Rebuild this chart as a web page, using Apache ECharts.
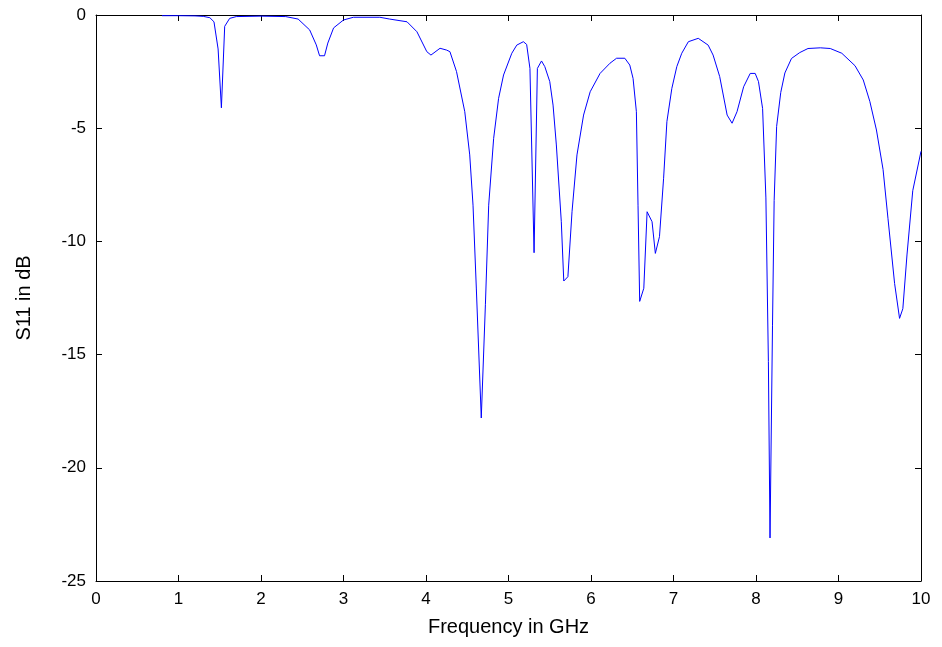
<!DOCTYPE html>
<html>
<head>
<meta charset="utf-8">
<script src="https://cdn.jsdelivr.net/npm/echarts@6/dist/echarts.min.js"></script>
<style>
html,body{margin:0;padding:0;background:#fff;}
#chart{width:942px;height:647px;}
</style>
</head>
<body>
<div id="chart"></div>
<script>
const freqGHz = [0.8,1.0,1.2,1.3,1.38,1.43,1.48,1.52,1.56,1.62,1.7,2.0,2.3,2.45,2.59,2.67,2.71,2.77,2.81,2.88,3.0,3.12,3.44,3.56,3.77,3.89,4.01,4.06,4.17,4.25,4.29,4.37,4.47,4.53,4.57,4.61,4.67,4.72,4.76,4.82,4.88,4.94,5.04,5.10,5.18,5.22,5.26,5.31,5.35,5.40,5.44,5.50,5.54,5.58,5.64,5.67,5.72,5.77,5.83,5.91,5.99,6.11,6.23,6.31,6.41,6.47,6.51,6.55,6.57,6.59,6.64,6.68,6.74,6.78,6.83,6.88,6.92,6.98,7.04,7.10,7.18,7.30,7.42,7.48,7.56,7.65,7.71,7.77,7.85,7.93,7.99,8.03,8.08,8.12,8.15,8.17,8.20,8.22,8.25,8.30,8.35,8.43,8.53,8.63,8.78,8.90,9.04,9.20,9.30,9.38,9.46,9.54,9.60,9.68,9.74,9.78,9.83,9.90,10.0];
const s11dB = [-0.03,-0.03,-0.04,-0.06,-0.12,-0.3,-1.5,-4.1,-0.5,-0.15,-0.07,-0.05,-0.07,-0.18,-0.66,-1.32,-1.8,-1.8,-1.24,-0.57,-0.22,-0.1,-0.1,-0.18,-0.3,-0.74,-1.62,-1.77,-1.47,-1.55,-1.62,-2.5,-4.27,-6.18,-8.4,-12.06,-17.8,-12.8,-8.4,-5.45,-3.68,-2.65,-1.69,-1.33,-1.18,-1.3,-2.36,-10.5,-2.36,-2.03,-2.28,-2.94,-3.98,-5.74,-9.13,-11.75,-11.56,-8.69,-6.18,-4.42,-3.39,-2.58,-2.13,-1.91,-1.91,-2.21,-2.8,-4.27,-8.4,-12.65,-12.07,-8.69,-9.13,-10.53,-9.79,-7.21,-4.71,-3.24,-2.28,-1.69,-1.18,-1.03,-1.33,-1.77,-2.72,-4.42,-4.78,-4.27,-3.17,-2.58,-2.58,-2.94,-4.13,-8.08,-15.3,-23.1,-13.7,-8.2,-4.92,-3.42,-2.56,-1.92,-1.66,-1.48,-1.45,-1.48,-1.69,-2.24,-2.87,-3.82,-5.08,-6.82,-9.0,-11.86,-13.4,-12.97,-10.6,-7.76,-6.02];
const xTitle = 'Frequency in GHz';
const yTitle = 'S11 in dB';

const data = freqGHz.map((f, i) => [f, s11dB[i]]);
const font = 'Liberation Sans, Arial, Helvetica, sans-serif';
const lineStyle = {color: '#000', width: 1};
const axisLine = {show: true, onZero: false, lineStyle};
const axisTick = {show: true, inside: true, length: 6, lineStyle};
const chart = echarts.init(document.getElementById('chart'), null, {renderer: 'canvas'});
chart.setOption({
  backgroundColor: '#fff',
  animation: false,
  grid: {left: 96, right: 21, top: 15, bottom: 66, containLabel: false, show: false},
  xAxis: [{
    type: 'value', min: 0, max: 10, interval: 1, position: 'bottom',
    name: xTitle, nameLocation: 'middle', nameGap: 36,
    nameTextStyle: {fontFamily: font, fontSize: 20, color: '#000'},
    axisLine, axisTick,
    axisLabel: {fontFamily: font, fontSize: 17, color: '#000', margin: 10},
    splitLine: {show: false}
  }, {
    type: 'value', min: 0, max: 10, interval: 1, position: 'top',
    axisLine, axisTick,
    axisLabel: {show: false}, splitLine: {show: false}
  }],
  yAxis: [{
    type: 'value', min: -25, max: 0, interval: 5, position: 'left',
    name: yTitle, nameLocation: 'middle', nameGap: 62, nameRotate: 90,
    nameTextStyle: {fontFamily: font, fontSize: 20, color: '#000'},
    axisLine, axisTick,
    axisLabel: {fontFamily: font, fontSize: 17, color: '#000', margin: 10},
    splitLine: {show: false}
  }, {
    type: 'value', min: -25, max: 0, interval: 5, position: 'right',
    axisLine, axisTick,
    axisLabel: {show: false}, splitLine: {show: false}
  }],
  series: [{
    type: 'line', data: data, xAxisIndex: 0, yAxisIndex: 0,
    showSymbol: false, smooth: false,
    lineStyle: {color: '#0000ff', width: 1},
    clip: true
  }]
});
</script>
</body>
</html>
